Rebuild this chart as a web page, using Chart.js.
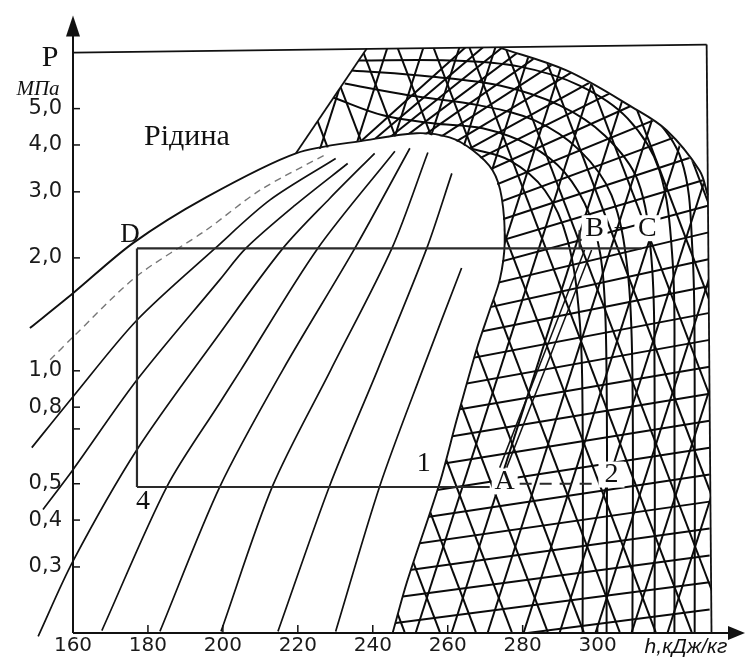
<!DOCTYPE html>
<html>
<head>
<meta charset="utf-8">
<title>p-h діаграма</title>
<script src="https://cdn.jsdelivr.net/npm/chart.js@4.4.1/dist/chart.umd.min.js"></script>
<style>
  html, body { margin: 0; padding: 0; background: #fff; }
  #chart { display: block; }
</style>
</head>
<body>
<canvas id="chart" width="746" height="657"></canvas>
<script>
// ---- axes ----
const hTicks = [160, 180, 200, 220, 240, 260, 280, 300];
const pTicks = [0.3, 0.4, 0.5, 0.7, 0.8, 1.0, 2.0, 3.0, 4.0, 5.0];
const pTickLabels = ["0,3", "0,4", "0,5", "", "0,8", "1,0", "2,0", "3,0", "4,0", "5,0"];

// ---- curves, [h kJ/kg, p MPa] ----
// saturation line (liquid side, dome top, vapour side)
const satLine = [[148.5,1.30],[160,1.61],[176,2.19],[195.5,2.90],[219.5,3.80],[238.4,4.12],[251.7,4.30],[260.5,4.19],[266.7,3.87],[272,3.42],[274.4,2.90],[275.2,2.19],[273.9,1.75],[271.2,1.45],[267.7,1.14],[262.4,0.74],[257.9,0.504],[249.1,0.273],[245.3,0.2]];
const dashLine = [[153.9,1.07],[160,1.23],[176.8,1.78],[195.5,2.37],[209.9,3.03],[228,3.80]];
// lines in the liquid / wet field
const wetLines = [
  [[149,0.624],[160,0.853],[177.1,1.366],[197.9,2.12],[212.5,2.85],[230.1,3.68]],
  [[152,0.427],[160,0.545],[177.1,0.946],[199.2,1.75],[206.1,2.12],[219.2,2.76],[233.3,3.57]],
  [[150.7,0.196],[160,0.311],[177.1,0.617],[199.2,1.26],[216,2.12],[228.5,2.88],[240.5,3.80]],
  [[167.7,0.203],[185.1,0.492],[199.2,0.822],[204.8,1.006],[225.3,2.12],[245.9,3.85]],
  [[183.2,0.202],[199.2,0.491],[216,1.006],[235.2,2.12],[249.9,3.92]],
  [[199.5,0.202],[213.3,0.494],[228.8,1.006],[245.1,2.12],[254.7,3.82]],
  [[214.7,0.202],[228.5,0.494],[241.3,1.006],[254.4,2.12],[261.1,3.36]],
  [[230.1,0.202],[241.9,0.494],[253.3,1.006],[263.7,1.88]]
];

// outline of the hatched (vapour) field
const meshEdge = [[219.5,3.80],[238.4,7.23],[273.9,7.27],[291.7,6.32],[309.3,5.04],[318.4,4.38],[327.2,3.42],[329.4,2.94],[330.4,0.2],[245.3,0.2],[249.1,0.273],[257.9,0.504],[262.4,0.74],[267.7,1.14],[271.2,1.45],[273.9,1.75],[275.2,2.19],[274.4,2.90],[272,3.42],[266.7,3.87],[260.5,4.19],[251.7,4.30],[238.4,4.12]];
const frameTop = [[160,7.05],[329.1,7.41]];
const frameRight = [[329.1,7.41],[330.4,0.2]];
const outerArc = [[273.9,7.27],[291.7,6.32],[309.3,5.04],[318.4,4.38],[327.2,3.42],[329.4,2.94]];
const meshLeft = [[219.5,3.80],[238.4,7.23]];

// hatching: gently rising lines, p at h=220.5 and at h=329.9
const hatchFlatH = [220.5, 329.9];
const hatchFlat = [[0.167,0.231],[0.197,0.273],[0.230,0.322],[0.268,0.380],[0.312,0.448],[0.362,0.529],[0.422,0.624],[0.491,0.736],[0.573,0.869],[0.668,1.025],[0.769,1.209],[0.885,1.427],[1.019,1.683],[1.144,1.986],[1.285,2.343],[1.401,2.764],[1.536,3.261],[1.683,3.847],[1.789,4.539],[1.914,5.355],[2.035,6.318],[2.124,7.455],[2.203,8.795],[2.300,10.37],[2.401,12.24],[2.490,14.44],[2.592,17.03],[2.697,20.10],[2.806,23.71],[2.921,27.98]];
// hatching: steep lines, h at p=0.201 and at p=7.59
const hatchSteepP = [0.201, 7.59];
const hatchUp = [[184.5,235.2],[193.9,244.5],[203.5,254.1],[213.1,263.7],[222.7,273.3],[232.3,282.9],[241.9,292.5],[251.5,302.1],[261.1,311.7],[270.7,321.3],[280.3,330.9],[289.9,340.5],[299.5,350.1],[309.1,359.7],[318.7,369.3]];
const hatchDown = [[248.5,188.5],[257.9,197.9],[267.5,207.5],[277.1,217.1],[286.7,226.7],[296.3,236.3],[305.9,245.9],[315.5,255.5],[325.1,265.1],[334.7,274.7],[344.3,284.3],[353.9,293.9],[363.5,303.5],[373.1,313.1]];
// hatching: arcs turning into verticals
const hatchArcs = [
  [[265.9,3.92],[276.5,3.64],[285.9,3.03],[292,2.23],[295.2,1.366],[296,0.741],[296,0.201]],
  [[229.3,5.36],[242.7,4.80],[256,4.57],[269.3,4.43],[281.9,3.99],[291.2,3.38],[297.9,2.60],[301.3,1.856],[302.4,0.946],[302.4,0.201]],
  [[232.5,5.83],[249.9,5.42],[268.5,5.10],[283.2,4.65],[295.2,3.87],[303.7,2.94],[308,1.856],[309.3,0.946],[309.3,0.201]],
  [[234.4,6.32],[255.2,6.09],[273.9,5.76],[289.9,5.10],[301.9,4.24],[310.7,3.22],[314.4,1.973],[315.2,0.946],[315.2,0.201]],
  [[236,6.72],[260.5,6.72],[279.2,6.47],[295.2,5.76],[308,4.71],[316.5,3.42],[320,1.973],[320.5,0.946],[320.5,0.201]],
  [[279.2,7.05],[299.2,6.13],[313.3,4.94],[322.4,3.64],[325.3,2.10],[325.9,0.946],[325.9,0.201]]
];

// cycle
const cycleTop = [[177.07,2.12],[311.7,2.12]];
const cycleLeft = [[177.07,2.12],[177.07,0.49]];
const cycleBottom = [[177.07,0.49],[271.2,0.49]];
const cycleDash = [[279.2,0.50],[300.5,0.50]];
const markB = [[295.2,2.12],[295.2,2.37]];
const compressA = [[273.87,0.552],[296.53,2.098]];
const compressB = [[275.73,0.552],[298.4,2.098]];

// ---- datasets ----
const datasets = [];
const pts = arr => arr.map(([h, p]) => ({ x: h, y: p }));
function addLine(arr, opts) {
  datasets.push(Object.assign({
    data: pts(arr), showLine: true, pointRadius: 0, fill: false,
    borderColor: "#111", borderWidth: 1.7, tension: 0
  }, opts));
}

const looseClip = { left: 50, top: 0, right: 0, bottom: 8 };
const hatch = { inMesh: true, order: 5, borderWidth: 2, borderColor: "#0a0a0a" };
hatchFlat.forEach(([pl, pr]) => addLine([[hatchFlatH[0], pl], [hatchFlatH[1], pr]], hatch));
hatchUp.forEach(([hb, ht]) => addLine([[hb, hatchSteepP[0]], [ht, hatchSteepP[1]]], hatch));
hatchDown.forEach(([hb, ht]) => addLine([[hb, hatchSteepP[0]], [ht, hatchSteepP[1]]], hatch));
hatchArcs.forEach(a => addLine(a, Object.assign({ tension: 0.35 }, hatch)));

wetLines.forEach(l => addLine(l, { order: 4, tension: 0.3, clip: looseClip }));
addLine(dashLine, { order: 4, tension: 0.3, clip: looseClip, borderDash: [7, 5], borderColor: "#777", borderWidth: 1.4 });
addLine(satLine, { order: 4, tension: 0.3, clip: looseClip, borderWidth: 1.9 });

addLine(frameTop, { order: 3, borderWidth: 1.8 });
addLine(frameRight, { order: 3, borderWidth: 1.8 });
addLine(outerArc, { order: 3, tension: 0.35, borderWidth: 2 });
addLine(meshLeft, { order: 3, borderWidth: 1.8 });

[cycleTop, cycleLeft, cycleBottom, markB].forEach(l => addLine(l, { order: 0, borderColor: "#2a2a2a", borderWidth: 2.2 }));
addLine(cycleDash, { order: 0, borderColor: "#2a2a2a", borderWidth: 2, borderDash: [12, 8] });
addLine(compressA, { order: 0, borderWidth: 1.5 });
addLine(compressB, { order: 0, borderWidth: 1.5 });

// ---- text on the diagram ----
const notes = [
  { text: "Рідина", h: 190.4, p: 4.19, size: 30 },
  { text: "D", h: 175.2, p: 2.30, size: 27 },
  { text: "1", h: 253.6, p: 0.566, size: 28 },
  { text: "4", h: 178.7, p: 0.448, size: 28 },
  { text: "A", h: 275.2, p: 0.507, size: 28, box: true },
  { text: "2", h: 303.7, p: 0.529, size: 28, box: true },
  { text: "B", h: 299.2, p: 2.40, size: 28, box: true },
  { text: "C", h: 313.3, p: 2.40, size: 28, box: true },
  { text: "–", h: 306.2, p: 2.42, size: 24 }
];

const meshClip = {
  id: "meshClip",
  beforeDatasetDraw(chart, args) {
    if (!chart.data.datasets[args.index].inMesh) return;
    const { ctx, scales: { x, y } } = chart;
    ctx.save();
    ctx.beginPath();
    meshEdge.forEach(([h, p], i) => {
      const px = x.getPixelForValue(h), py = y.getPixelForValue(p);
      if (i === 0) ctx.moveTo(px, py); else ctx.lineTo(px, py);
    });
    ctx.closePath();
    ctx.clip();
  },
  afterDatasetDraw(chart, args) {
    if (chart.data.datasets[args.index].inMesh) chart.ctx.restore();
  }
};

const decor = {
  id: "decor",
  afterDraw(chart) {
    const { ctx, chartArea: a, scales: { x, y } } = chart;
    const x0 = x.getPixelForValue(160);
    const y0 = y.getPixelForValue(0.2);
    ctx.save();
    ctx.strokeStyle = "#111";
    ctx.fillStyle = "#111";
    ctx.lineWidth = 2;
    ctx.beginPath();
    ctx.moveTo(x0, y0); ctx.lineTo(x0, a.top + 16);
    ctx.moveTo(x0, y0); ctx.lineTo(a.right - 8, y0);
    ctx.stroke();
    // arrow heads
    ctx.beginPath();
    ctx.moveTo(x0, a.top); ctx.lineTo(x0 - 7, a.top + 21); ctx.lineTo(x0 + 7, a.top + 21);
    ctx.closePath(); ctx.fill();
    ctx.beginPath();
    ctx.moveTo(a.right + 5, y0); ctx.lineTo(a.right - 12, y0 - 7); ctx.lineTo(a.right - 12, y0 + 7);
    ctx.closePath(); ctx.fill();
    // tick marks
    ctx.lineWidth = 1.5;
    pTicks.forEach(v => {
      const py = y.getPixelForValue(v);
      ctx.beginPath(); ctx.moveTo(x0, py); ctx.lineTo(x0 + 7, py); ctx.stroke();
    });
    hTicks.slice(1).forEach(v => {
      const px = x.getPixelForValue(v);
      ctx.beginPath(); ctx.moveTo(px, y0); ctx.lineTo(px, y0 - 8); ctx.stroke();
    });
    // axis titles
    ctx.textAlign = "center";
    ctx.textBaseline = "middle";
    ctx.font = '30px "Liberation Serif"';
    ctx.fillText("P", x0 - 23, y.getPixelForValue(7.05) + 5);
    ctx.font = 'italic 21px "Liberation Serif"';
    ctx.fillText("МПа", x0 - 35, y.getPixelForValue(5.0) - 19);
    ctx.font = 'italic 21px "Liberation Sans"';
    ctx.fillText("h,кДж/кг", a.right - 54, y0 + 14);
    // labels on the diagram
    notes.forEach(n => {
      const px = x.getPixelForValue(n.h), py = y.getPixelForValue(n.p);
      if (n.box) {
        ctx.fillStyle = "#fff";
        ctx.fillRect(px - 13, py - 13, 26, 26);
      }
      ctx.fillStyle = "#111";
      ctx.font = n.size + 'px "Liberation Serif"';
      ctx.fillText(n.text, px, py);
    });
    ctx.restore();
  }
};

new Chart(document.getElementById("chart").getContext("2d"), {
  type: "scatter",
  data: { datasets },
  options: {
    responsive: false,
    animation: false,
    events: [],
    layout: { padding: { top: 15, right: 6, left: 0, bottom: 0 } },
    plugins: { legend: { display: false }, tooltip: { enabled: false } },
    scales: {
      x: {
        type: "linear",
        min: 160,
        max: 338,
        grid: { display: false },
        border: { display: false },
        afterBuildTicks: s => { s.ticks = hTicks.map(v => ({ value: v })); },
        afterFit: s => { s.height = 24; },
        ticks: {
          autoSkip: false,
          maxRotation: 0,
          padding: -7,
          color: "#1a1a1a",
          font: { family: "DejaVu Sans", size: 20 },
          callback: v => String(v)
        }
      },
      y: {
        type: "logarithmic",
        min: 0.2,
        max: 8.85,
        grid: { display: false },
        border: { display: false },
        afterBuildTicks: s => { s.ticks = pTicks.map(v => ({ value: v })); },
        afterFit: s => { s.width = 73; },
        ticks: {
          autoSkip: false,
          padding: 3,
          color: "#1a1a1a",
          font: { family: "DejaVu Sans", size: 21 },
          callback: (v, i) => pTickLabels[i]
        }
      }
    }
  },
  plugins: [meshClip, decor]
});
</script>
</body>
</html>
